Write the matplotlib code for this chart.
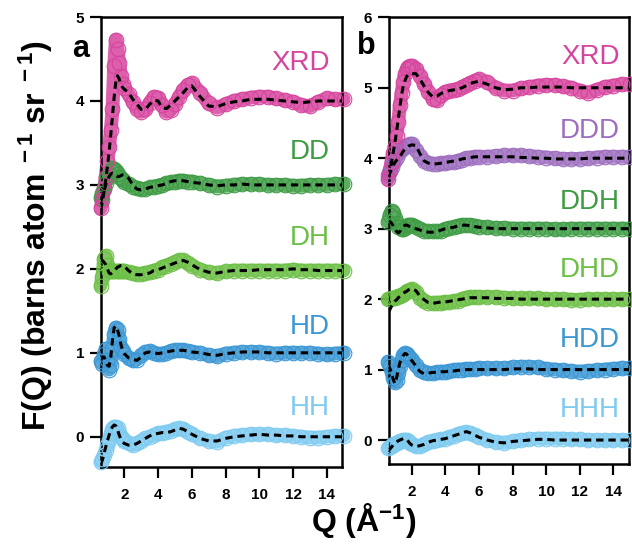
import matplotlib
matplotlib.use("Agg")
import matplotlib.pyplot as plt

plt.rcParams["font.family"] = ["Liberation Sans", "DejaVu Sans"]
plt.rcParams["mathtext.fontset"] = "custom"
plt.rcParams["mathtext.rm"] = "Liberation Sans:bold"
plt.rcParams["mathtext.it"] = "Liberation Sans:bold"
plt.rcParams["mathtext.bf"] = "Liberation Sans:bold"

# Momentum transfer grid (1/Angstrom)
q = [0.6, 0.7, 0.8, 0.9, 1.0, 1.1, 1.2, 1.3, 1.4, 1.5, 1.6, 1.7, 1.8, 1.9, 2.0,
     2.25, 2.5, 2.75, 3.0, 3.25, 3.5, 3.75, 4.0, 4.25, 4.5, 4.75, 5.0, 5.25, 5.5,
     5.75, 6.0, 6.5, 7.0, 7.5, 8.0, 8.5, 9.0, 9.5, 10.0, 10.5, 11.0, 11.5, 12.0,
     12.5, 13.0, 13.5, 14.0, 14.5, 15.0]

# ---- panel a: measured F(Q) and model fits ----
xrd_a = [-1.28, -1.18, -1.05, -0.9, -0.72, -0.55, -0.35, -0.1, 0.42, 0.73, 0.62, 0.45, 0.3, 0.2, 0.15,
         0.08, -0.01, -0.09, -0.13, -0.1, -0.02, 0.05, 0.04, -0.05, -0.13, -0.11, -0.04, 0.05, 0.13,
         0.19, 0.21, 0.1, -0.03, -0.08, -0.04, 0.0, 0.02, 0.04, 0.05, 0.05, 0.03, 0.01, -0.01,
         -0.05, -0.06, -0.01, 0.03, 0.02, 0.02]
xrd_a_fit = [-1.3, -1.2, -1.08, -0.94, -0.78, -0.6, -0.4, -0.18, 0.05, 0.24, 0.3, 0.26, 0.2, 0.16, 0.14,
             0.1, 0.02, -0.04, -0.1, -0.1, -0.04, 0.01, 0.0, -0.08, -0.09, -0.05, 0.0, 0.05, 0.1,
             0.16, 0.18, 0.05, -0.06, -0.07, -0.03, -0.01, 0.0, 0.02, 0.02, 0.02, 0.01, 0.0, -0.01,
             -0.02, -0.01, 0.0, 0.0, 0.0, 0.0]
dd = [-0.15, -0.1, -0.04, 0.02, 0.08, 0.13, 0.17, 0.2, 0.19, 0.16, 0.13, 0.1, 0.08, 0.06, 0.04,
      0.01, -0.02, -0.04, -0.05, -0.05, -0.03, -0.02, -0.01, 0.0, 0.02, 0.03, 0.04, 0.05, 0.05,
      0.04, 0.04, 0.02, 0.0, -0.02, -0.01, 0.0, 0.01, 0.01, 0.01, 0.0, 0.0, 0.0, -0.01,
      -0.01, 0.0, 0.0, 0.0, 0.01, 0.01]
dd_fit = [-0.2, -0.14, -0.07, 0.0, 0.06, 0.1, 0.13, 0.14, 0.13, 0.11, 0.1, 0.1, 0.11, 0.12, 0.12,
          0.08, 0.0, -0.05, -0.06, -0.05, -0.03, -0.02, -0.01, 0.0, 0.02, 0.04, 0.05, 0.05, 0.05,
          0.04, 0.03, 0.02, 0.0, -0.01, 0.0, 0.0, 0.01, 0.0, 0.0, 0.0, 0.0, 0.0, 0.0,
          0.0, 0.0, 0.0, 0.0, 0.0, 0.0]
dh = [-0.2, -0.1, 0.12, 0.15, 0.05, -0.02, -0.03, -0.03, -0.03, -0.03, -0.03, -0.03, -0.03, -0.03, -0.03,
      -0.04, -0.05, -0.06, -0.06, -0.05, -0.04, -0.02, -0.01, 0.02, 0.04, 0.06, 0.08, 0.1, 0.1,
      0.07, 0.04, -0.01, -0.04, -0.05, -0.03, -0.02, -0.02, -0.02, -0.02, -0.02, -0.02, -0.02, -0.01,
      -0.02, -0.02, -0.02, -0.02, -0.02, -0.02]
dh_fit = [0.1, 0.1, 0.08, 0.05, 0.0, -0.05, -0.06, -0.04, -0.02, 0.0, 0.02, 0.03, 0.04, 0.04, 0.03,
          -0.02, -0.06, -0.07, -0.07, -0.06, -0.05, -0.02, -0.01, 0.01, 0.03, 0.05, 0.07, 0.09, 0.1,
          0.08, 0.05, -0.01, -0.04, -0.05, -0.03, -0.02, -0.02, -0.02, -0.01, -0.01, -0.01, -0.01, 0.0,
          -0.01, -0.01, -0.02, -0.02, -0.02, -0.02]
hd = [-0.1, -0.13, -0.02, 0.05, -0.08, -0.2, -0.15, 0.05, 0.22, 0.3, 0.27, 0.16, 0.06, 0.02, -0.01,
      -0.06, -0.09, -0.08, -0.03, 0.01, 0.02, 0.0, -0.02, -0.01, 0.0, 0.02, 0.03, 0.03, 0.03,
      0.02, 0.01, 0.0, -0.03, -0.04, -0.01, 0.0, 0.01, 0.01, 0.01, 0.0, -0.01, 0.0, 0.0,
      0.0, 0.0, -0.01, -0.02, -0.01, 0.0]
hd_fit = [-0.08, -0.05, -0.05, -0.1, -0.15, -0.16, -0.05, 0.15, 0.3, 0.32, 0.27, 0.2, 0.1, 0.03, -0.01,
          -0.06, -0.08, -0.09, -0.05, 0.0, 0.01, 0.0, -0.01, 0.0, 0.01, 0.02, 0.03, 0.03, 0.03,
          0.02, 0.01, 0.0, -0.02, -0.03, -0.01, 0.0, 0.01, 0.01, 0.01, 0.0, 0.0, 0.0, 0.0,
          0.0, 0.0, 0.0, 0.0, 0.0, 0.0]
hh = [-0.3, -0.27, -0.22, -0.16, -0.1, -0.04, 0.04, 0.09, 0.12, 0.12, 0.1, 0.05, 0.0, -0.03, -0.05,
      -0.08, -0.1, -0.08, -0.05, -0.02, 0.0, 0.02, 0.04, 0.05, 0.06, 0.07, 0.09, 0.1, 0.09,
      0.06, 0.03, -0.02, -0.05, -0.06, -0.01, 0.01, 0.02, 0.03, 0.03, 0.03, 0.02, 0.02, 0.01,
      0.0, -0.01, -0.01, 0.0, 0.01, 0.01]
hh_fit = [-0.32, -0.28, -0.2, -0.12, -0.05, 0.02, 0.08, 0.12, 0.14, 0.13, 0.08, 0.02, -0.03, -0.06, -0.08,
          -0.1, -0.1, -0.08, -0.05, -0.02, 0.01, 0.03, 0.04, 0.05, 0.05, 0.06, 0.08, 0.1, 0.09,
          0.06, 0.03, -0.02, -0.05, -0.05, -0.02, 0.0, 0.01, 0.02, 0.03, 0.02, 0.02, 0.01, 0.01,
          0.0, 0.0, 0.0, 0.0, 0.0, 0.0]

# ---- panel b: measured F(Q) and model fits ----
xrd_b = [-1.3, -1.17, -1.05, -0.92, -0.82, -0.68, -0.48, -0.25, -0.08, 0.08, 0.2, 0.26, 0.29, 0.31, 0.31,
         0.27, 0.17, 0.05, -0.06, -0.16, -0.18, -0.1, -0.06, -0.04, -0.03, -0.02, 0.01, 0.04, 0.07,
         0.1, 0.12, 0.08, 0.0, -0.04, -0.04, -0.01, 0.01, 0.03, 0.04, 0.04, 0.02, 0.0, -0.04,
         -0.07, -0.03, 0.01, 0.03, 0.05, 0.05]
xrd_b_fit = [-1.28, -1.18, -1.06, -0.92, -0.78, -0.62, -0.45, -0.27, -0.1, 0.03, 0.1, 0.16, 0.19, 0.2, 0.2,
             0.2, 0.12, 0.02, -0.07, -0.13, -0.12, -0.08, -0.06, -0.04, -0.03, -0.02, 0.0, 0.03, 0.06,
             0.08, 0.09, 0.05, 0.0, -0.03, -0.02, 0.0, 0.0, 0.01, 0.01, 0.01, 0.01, 0.0, 0.0,
             0.0, 0.0, 0.0, 0.0, 0.0, 0.0]
ddd = [-0.24, -0.18, -0.12, -0.07, -0.03, 0.02, 0.07, 0.1, 0.13, 0.15, 0.17, 0.18, 0.19, 0.2, 0.2,
       0.12, 0.03, -0.04, -0.07, -0.08, -0.08, -0.07, -0.07, -0.06, -0.06, -0.04, -0.02, 0.0, 0.01,
       0.02, 0.02, 0.02, 0.03, 0.04, 0.04, 0.04, 0.03, 0.02, 0.01, 0.0, -0.01, -0.01, -0.01,
       0.0, 0.01, 0.02, 0.02, 0.02, 0.02]
ddd_fit = [-0.26, -0.21, -0.16, -0.1, -0.06, -0.03, -0.01, 0.02, 0.06, 0.1, 0.13, 0.15, 0.17, 0.18, 0.19,
           0.18, 0.06, -0.04, -0.07, -0.08, -0.08, -0.07, -0.06, -0.05, -0.04, -0.03, -0.01, 0.0, 0.01,
           0.02, 0.02, 0.02, 0.02, 0.02, 0.02, 0.01, 0.01, 0.0, 0.0, -0.01, -0.01, -0.01, -0.01,
           0.0, 0.0, 0.0, 0.0, 0.0, 0.0]
ddh = [0.1, 0.2, 0.25, 0.22, 0.15, 0.08, 0.03, 0.02, 0.0, -0.01, 0.01, 0.04, 0.05, 0.05, 0.05,
       0.03, 0.0, -0.03, -0.04, -0.04, -0.04, -0.03, -0.01, 0.01, 0.02, 0.04, 0.05, 0.05, 0.05,
       0.04, 0.03, 0.02, 0.01, 0.01, 0.0, 0.0, 0.0, 0.0, 0.0, -0.01, -0.01, 0.0, 0.0,
       0.0, 0.0, 0.0, 0.0, 0.0, 0.0]
ddh_fit = [0.1, 0.1, 0.08, 0.04, 0.0, -0.04, -0.06, -0.04, 0.0, 0.03, 0.05, 0.05, 0.04, 0.03, 0.02,
           0.0, -0.02, -0.04, -0.05, -0.05, -0.04, -0.02, 0.0, 0.01, 0.02, 0.04, 0.05, 0.05, 0.04,
           0.03, 0.02, 0.01, 0.0, 0.0, 0.0, 0.0, 0.0, 0.0, 0.0, 0.0, 0.0, 0.0, 0.0,
           0.0, 0.0, 0.0, 0.0, 0.0, 0.0]
dhd = [0.0, 0.0, 0.01, 0.01, 0.02, 0.03, 0.04, 0.05, 0.06, 0.07, 0.09, 0.11, 0.12, 0.13, 0.14,
       0.1, 0.02, -0.03, -0.05, -0.06, -0.05, -0.05, -0.04, -0.04, -0.03, -0.02, 0.0, 0.02, 0.03,
       0.03, 0.03, 0.03, 0.03, 0.02, 0.01, 0.01, 0.01, 0.01, 0.0, 0.0, 0.0, -0.01, -0.01,
       0.0, 0.0, 0.0, 0.0, 0.0, 0.0]
dhd_fit = [-0.18, -0.15, -0.1, -0.06, -0.03, -0.01, 0.02, 0.04, 0.06, 0.08, 0.1, 0.11, 0.13, 0.14, 0.15,
           0.12, 0.04, -0.01, -0.05, -0.06, -0.05, -0.04, -0.04, -0.03, -0.02, -0.01, 0.0, 0.01, 0.02,
           0.02, 0.02, 0.02, 0.01, 0.01, 0.01, 0.0, 0.0, 0.0, 0.0, 0.0, 0.0, 0.0, 0.0,
           0.0, 0.0, 0.0, 0.0, 0.0, 0.0]
hdd = [0.11, 0.05, -0.03, -0.12, -0.18, -0.15, -0.05, 0.05, 0.14, 0.2, 0.23, 0.22, 0.19, 0.16, 0.13,
       0.06, -0.01, -0.04, -0.05, -0.05, -0.04, -0.03, -0.03, -0.02, -0.01, 0.0, 0.0, 0.01, 0.01,
       0.01, 0.02, 0.02, 0.02, 0.02, 0.03, 0.04, 0.04, 0.03, 0.01, 0.0, -0.01, -0.02, -0.03,
       -0.02, -0.01, 0.0, 0.01, 0.02, 0.02]
hdd_fit = [0.07, 0.02, -0.05, -0.14, -0.2, -0.12, 0.0, 0.1, 0.16, 0.2, 0.23, 0.22, 0.19, 0.16, 0.13,
           0.05, -0.03, -0.06, -0.05, -0.04, -0.04, -0.03, -0.03, -0.02, -0.02, -0.01, -0.01, 0.0, 0.0,
           0.0, 0.0, 0.0, 0.0, 0.0, 0.01, 0.01, 0.01, 0.0, 0.0, 0.0, 0.0, 0.0, 0.0,
           0.0, 0.0, 0.0, 0.0, 0.0, 0.0]
hhh = [-0.12, -0.1, -0.08, -0.06, -0.05, -0.04, -0.03, -0.02, -0.01, 0.0, 0.0, 0.0, -0.02, -0.04, -0.06,
       -0.09, -0.09, -0.06, -0.03, -0.01, 0.0, 0.01, 0.02, 0.04, 0.06, 0.08, 0.1, 0.11, 0.1,
       0.07, 0.04, 0.0, -0.03, -0.04, -0.02, 0.0, 0.01, 0.02, 0.02, 0.02, 0.02, 0.01, 0.01,
       0.0, 0.0, 0.0, 0.0, 0.0, 0.0]
hhh_fit = [-0.15, -0.13, -0.1, -0.07, -0.05, -0.03, -0.01, 0.0, 0.01, 0.02, 0.02, 0.01, -0.02, -0.05, -0.07,
           -0.09, -0.08, -0.06, -0.03, -0.01, 0.0, 0.01, 0.02, 0.04, 0.06, 0.08, 0.1, 0.12, 0.1,
           0.07, 0.04, 0.0, -0.03, -0.04, -0.02, -0.01, 0.0, 0.01, 0.01, 0.0, 0.0, 0.0, 0.0,
           0.0, 0.0, 0.0, 0.0, 0.0, 0.0]

names_a = ["HH", "HD", "DH", "DD", "XRD"]
offsets_a = [0, 1, 2, 3, 4]
data_a = [hh, hd, dh, dd, xrd_a]
fits_a = [hh_fit, hd_fit, dh_fit, dd_fit, xrd_a_fit]

names_b = ["HHH", "HDD", "DHD", "DDH", "DDD", "XRD"]
offsets_b = [0, 1, 2, 3, 4, 5]
data_b = [hhh, hdd, dhd, ddh, ddd, xrd_b]
fits_b = [hhh_fit, hdd_fit, dhd_fit, ddh_fit, ddd_fit, xrd_b_fit]

colors = {"XRD": "#d6449e", "DD": "#3e9c44", "DDH": "#3e9c44", "DH": "#6cbf45",
          "DHD": "#6cbf45", "HD": "#3a97d4", "HDD": "#3a97d4", "HH": "#7ecbf0",
          "HHH": "#7ecbf0", "DDD": "#9e6fbf"}

fig = plt.figure(figsize=(6.32, 5.51), dpi=100)
ax_a = fig.add_axes([0.1593, 0.1525, 0.3818, 0.8166])
ax_b = fig.add_axes([0.6155, 0.1579, 0.3797, 0.8107])


def draw_panel(ax, names, offsets, data, fits, label_x, label_pos, ylim, xlim):
    for name, off, ys, fs in zip(names, offsets, data, fits):
        c = colors[name]
        yv = [v + off for v in ys]
        fv = [v + off for v in fs]
        ax.plot(q, yv, "-", color=c, lw=10, alpha=0.85, solid_capstyle="round",
                solid_joinstyle="round", zorder=2, clip_on=False)
        ax.plot(q, yv, "o", mfc="none", mec=c, ms=10.5, mew=0.8, zorder=3,
                clip_on=False)
        ax.plot(q, fv, color="black", lw=2.2, dashes=(2.4, 1.6), zorder=6)
    for name, yl in zip(names, label_pos):
        ax.text(label_x, yl, name, color=colors[name], fontsize=20,
                ha="right", va="center", zorder=7)
    ax.set_xlim(*xlim)
    ax.set_ylim(*ylim)
    ax.set_xticks([2, 4, 6, 8, 10, 12, 14])
    ax.set_yticks(range(int(ylim[1]) + 1))
    ax.tick_params(direction="out", length=8, width=1.6, labelsize=11, pad=4)
    ax.tick_params(axis="x", pad=7)
    for lab in ax.get_xticklabels() + ax.get_yticklabels():
        lab.set_fontweight("bold")
    for sp in ax.spines.values():
        sp.set_linewidth(1.8)


draw_panel(ax_a, names_a, offsets_a, data_a, fits_a, 14.2,
           [0.34, 1.31, 2.37, 3.39, 4.45], (-0.36, 5.0), (0.6, 14.9))
draw_panel(ax_b, names_b, offsets_b, data_b, fits_b, 14.4,
           [0.43, 1.42, 2.41, 3.38, 4.38, 5.43], (-0.34, 6.0), (0.65, 14.93))

fig.text(81 / 632, 1 - 49 / 551, "a", fontsize=22, fontweight="bold",
         ha="center", va="center")
fig.text(366 / 632, 1 - 46 / 551, "b", fontsize=22, fontweight="bold",
         ha="center", va="center")

fig.text(36 / 632, 1 - 236 / 551,
         r"F(Q) (barns atom$^{\ -1}$ sr$^{\ -1}$)",
         fontsize=23, fontweight="bold", rotation=90, ha="center", va="center")
fig.text(364 / 632, 1 - 520 / 551, r"Q ($\mathrm{\AA}^{-1}$)",
         fontsize=23, fontweight="bold", ha="center", va="center")

fig.savefig("out.png", dpi=100)
